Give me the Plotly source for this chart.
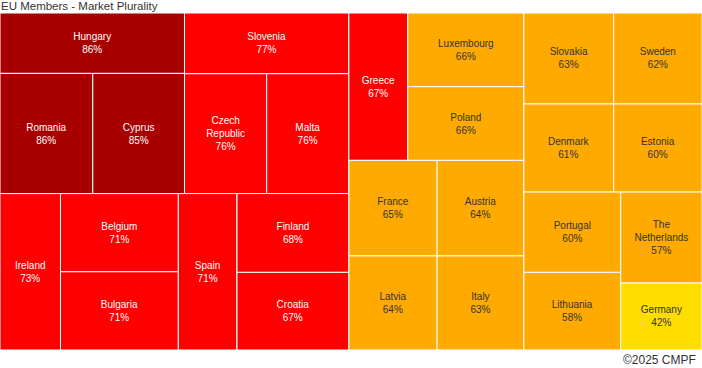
import plotly.graph_objects as go

countries = ["Hungary", "Romania", "Cyprus", "Slovenia", "Czech Republic", "Malta",
             "Ireland", "Belgium", "Bulgaria", "Spain", "Finland", "Croatia",
             "Greece", "Luxembourg", "Poland", "France", "Latvia", "Austria", "Italy",
             "Slovakia", "Denmark", "Sweden", "Estonia", "Portugal", "Lithuania",
             "The Netherlands", "Germany"]
display_names = ["Hungary", "Romania", "Cyprus", "Slovenia", "Czech<br>Republic", "Malta",
                 "Ireland", "Belgium", "Bulgaria", "Spain", "Finland", "Croatia",
                 "Greece", "Luxembourg", "Poland", "France", "Latvia", "Austria", "Italy",
                 "Slovakia", "Denmark", "Sweden", "Estonia", "Portugal", "Lithuania",
                 "The<br>Netherlands", "Germany"]
plurality = [86, 86, 85, 77, 76, 76,
             73, 71, 71, 71, 68, 67,
             67, 66, 66, 65, 64, 64, 63,
             63, 61, 62, 60, 60, 58,
             57, 42]
# block grouping of the treemap (nested groups of countries)
block = ["L/LT/HRC", "L/LT/HRC/RC", "L/LT/HRC/RC", "L/LT/SCM", "L/LT/SCM/CM", "L/LT/SCM/CM",
         "L/LB/IBB/IBBw", "L/LB/IBB/IBBw/BB", "L/LB/IBB/IBBw/BB",
         "L/LB/SFC/SFCw", "L/LB/SFC/SFCw/FC", "L/LB/SFC/SFCw/FC",
         "R/Rw/G7/GT", "R/Rw/G7/GT/LP", "R/Rw/G7/GT/LP",
         "R/Rw/G7/GB/FL", "R/Rw/G7/GB/FL", "R/Rw/G7/GB/AI", "R/Rw/G7/GB/AI",
         "R/Rw/S8/ST/SD", "R/Rw/S8/ST/SD", "R/Rw/S8/ST/SE", "R/Rw/S8/ST/SE",
         "R/Rw/S8/SB/PL", "R/Rw/S8/SB/PL", "R/Rw/S8/SB/NG", "R/Rw/S8/SB/NG"]


def band_color(v):
    if v >= 80:
        return "#A80000"
    if v >= 67:
        return "#FF0000"
    if v >= 50:
        return "#FFAA00"
    return "#FFDD00"


def text_color(v):
    return "#FFFFFF" if v >= 67 else "#333333"


ids, labels, parents, values, colors, tcolors, texts = [], [], [], [], [], [], []
seen = set()


def add_group(path):
    if path in seen:
        return
    if "/" in path:
        add_group(path.rsplit("/", 1)[0])
        par = path.rsplit("/", 1)[0]
    else:
        par = "EU"
    seen.add(path)
    ids.append(path)
    labels.append(path.rsplit("/", 1)[-1])
    parents.append(par)
    values.append(0)
    colors.append("#FFFFFF")
    tcolors.append("#FFFFFF")
    texts.append("")


ids.append("EU"); labels.append("EU"); parents.append(""); values.append(0)
colors.append("#FFFFFF"); tcolors.append("#FFFFFF"); texts.append(""); seen.add("EU")

for name, disp, v, b in zip(countries, display_names, plurality, block):
    add_group(b)
    ids.append(b + "/" + name)
    labels.append(name)
    parents.append(b)
    values.append(v)
    colors.append(band_color(v))
    tcolors.append(text_color(v))
    texts.append(f"{disp}<br>{v}%")

fig = go.Figure(go.Treemap(
    ids=ids,
    labels=labels,
    parents=parents,
    values=values,
    branchvalues="remainder",
    text=texts,
    texttemplate="%{text}",
    textposition="middle center",
    hoverinfo="skip",
    sort=False,
    tiling=dict(packing="slice-dice", pad=0),
    marker=dict(colors=colors, line=dict(color="#FFFFFF", width=1),
                pad=dict(t=0, l=0, r=0, b=0)),
    textfont=dict(family="Liberation Sans, Arial, sans-serif", size=10, color=tcolors),
    pathbar=dict(visible=False),
))

fig.update_layout(
    width=702, height=368,
    margin=dict(l=0, r=0, t=13, b=18),
    paper_bgcolor="#FFFFFF",
    uniformtext=dict(minsize=10, mode="show"),
    annotations=[
        dict(text="EU Members - Market Plurality", x=0, y=1, xref="paper", yref="paper",
             xanchor="left", yanchor="top", showarrow=False, yshift=14, borderpad=0,
             font=dict(family="Liberation Sans, Arial, sans-serif", size=11.5, color="#333333")),
        dict(text="©2025 CMPF", x=1, y=0, xref="paper", yref="paper",
             xanchor="right", yanchor="top", showarrow=False, xshift=-4, yshift=-1,
             font=dict(family="Liberation Sans, Arial, sans-serif", size=12, color="#333333")),
    ],
)

fig.write_html("out.html", config={"displayModeBar": False},
               post_script="document.body.style.margin='0px';")
